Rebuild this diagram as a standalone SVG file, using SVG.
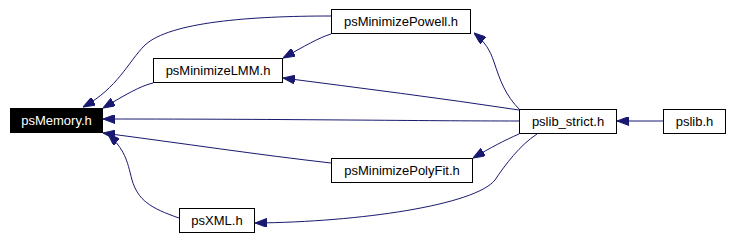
<svg xmlns="http://www.w3.org/2000/svg" width="732" height="240" viewBox="0 0 732 240">
<style>
.n rect{fill:#fff;stroke:#000;stroke-width:1}
.n text{font-family:"Liberation Sans",Arial,sans-serif;font-size:13px;fill:#000;text-anchor:middle}
#psMemory rect{fill:#000}
#psMemory text{fill:#fff}
.e path{fill:none;stroke:#191970;stroke-width:1;marker-end:url(#ah)}
</style>
<defs>
<marker id="ah" markerUnits="userSpaceOnUse" markerWidth="12" markerHeight="9" refX="12" refY="4.5" orient="auto">
<path d="M0,0 L12,4.5 L0,9 z" fill="#191970" stroke="#191970"/>
</marker>
</defs>
<rect width="732" height="240" fill="#fff"/>
<g class="e">
<path d="M331,16 C250,16 170,22 145,45 C128,62 118,88 83,107"/>
<path d="M331,34 C318,38 305,46 283,58"/>
<path d="M153,83 C140,86 125,95 103,108"/>
<path d="M519,110 C440,98 360,88 283,78"/>
<path d="M519,121 C420,121 300,119 103,119"/>
<path d="M519,134 C505,140 490,148 473,158"/>
<path d="M331,163 C260,155 180,143 103,133"/>
<path d="M179,218 C150,208 138,200 132,180 C127,160 125,150 108,134"/>
<path d="M537,134 C520,145 505,165 495,180 C475,205 360,222 255,223"/>
<path d="M520,110 C505,95 500,80 494,62 C490,50 485,42 474,33"/>
<path d="M663,121 L617,121"/>
</g>
<g id="psMemory" class="n"><rect x="10.5" y="108.5" width="92" height="24"/><text x="56.5" y="125">psMemory.h</text></g>
<g id="psMinimizeLMM" class="n"><rect x="153.5" y="58.5" width="129" height="24"/><text x="218" y="75">psMinimizeLMM.h</text></g>
<g id="psXML" class="n"><rect x="179.5" y="208.5" width="75" height="24"/><text x="217" y="225">psXML.h</text></g>
<g id="psMinimizePowell" class="n"><rect x="331.5" y="9.5" width="139" height="24"/><text x="401" y="26">psMinimizePowell.h</text></g>
<g id="psMinimizePolyFit" class="n"><rect x="331.5" y="158.5" width="141" height="24"/><text x="402" y="175">psMinimizePolyFit.h</text></g>
<g id="pslib_strict" class="n"><rect x="519.5" y="109.5" width="97" height="24"/><text x="568" y="126">pslib_strict.h</text></g>
<g id="pslib" class="n"><rect x="663.5" y="109.5" width="62" height="24"/><text x="694.5" y="126">pslib.h</text></g>
</svg>
